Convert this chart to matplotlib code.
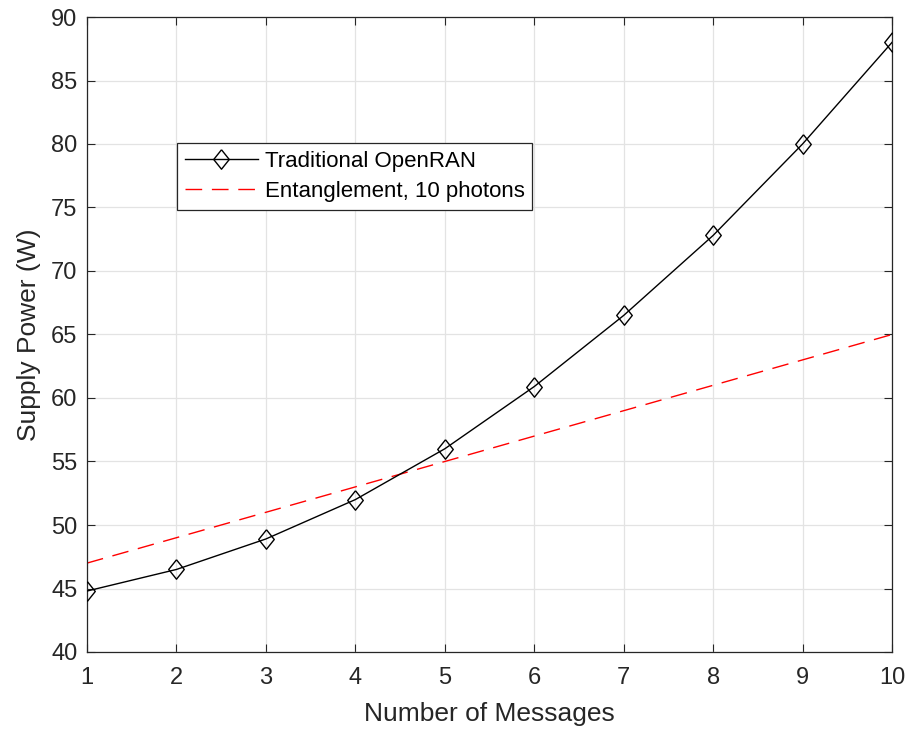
import matplotlib
matplotlib.use("Agg")
import matplotlib.pyplot as plt

plt.rcParams['font.family'] = ['Liberation Sans', 'DejaVu Sans']

messages = [1, 2, 3, 4, 5, 6, 7, 8, 9, 10]
traditional_power = [44.8, 46.5, 48.9, 52.0, 56.0, 60.9, 66.5, 72.8, 80.0, 88.0]
entanglement_power = [47, 49, 51, 53, 55, 57, 59, 61, 63, 65]
y_ticks = [40, 45, 50, 55, 60, 65, 70, 75, 80, 85, 90]

fig = plt.figure(figsize=(9.11, 7.33), dpi=100)
ax = fig.add_axes([87 / 911, 1 - 652 / 733, 805 / 911, 635 / 733])

diamond = [(0, 1), (0.8, 0), (0, -1), (-0.8, 0), (0, 1)]
ax.plot(messages, traditional_power, color='black', lw=1.0, marker=diamond,
        markersize=14, markerfacecolor='none', markeredgecolor='black',
        markeredgewidth=1.0, label='Traditional OpenRAN', zorder=3)
ax.plot(messages, entanglement_power, color='#ff0000', lw=1.0,
        dashes=(12, 7), label='Entanglement, 10 photons', zorder=2)

ax.set_xlim(1, 10)
ax.set_ylim(40, 90)
ax.set_xticks(messages)
ax.set_yticks(y_ticks)
ax.tick_params(direction='in', top=True, right=True, length=6, width=0.8,
               labelsize=17, colors='#262626', pad=7)
ax.tick_params(axis='x', pad=11)
ax.grid(True, color='#e3e3e3', lw=0.9)
ax.set_axisbelow(True)
for s in ax.spines.values():
    s.set_color('#262626')
    s.set_linewidth(0.9)

ax.set_xlabel('Number of Messages', fontsize=19, color='#262626', labelpad=9)
ax.set_ylabel('Supply Power (W)', fontsize=19, color='#262626', labelpad=7)

leg = ax.legend(loc='upper left', bbox_to_anchor=(0.1118, 0.8016),
                fontsize=16, frameon=True, fancybox=False, framealpha=1,
                edgecolor='#262626', handlelength=3.3, borderpad=0.35,
                labelspacing=0.42, handletextpad=0.3, borderaxespad=0)
leg.get_frame().set_linewidth(0.9)

fig.savefig('out.png', dpi=100)
